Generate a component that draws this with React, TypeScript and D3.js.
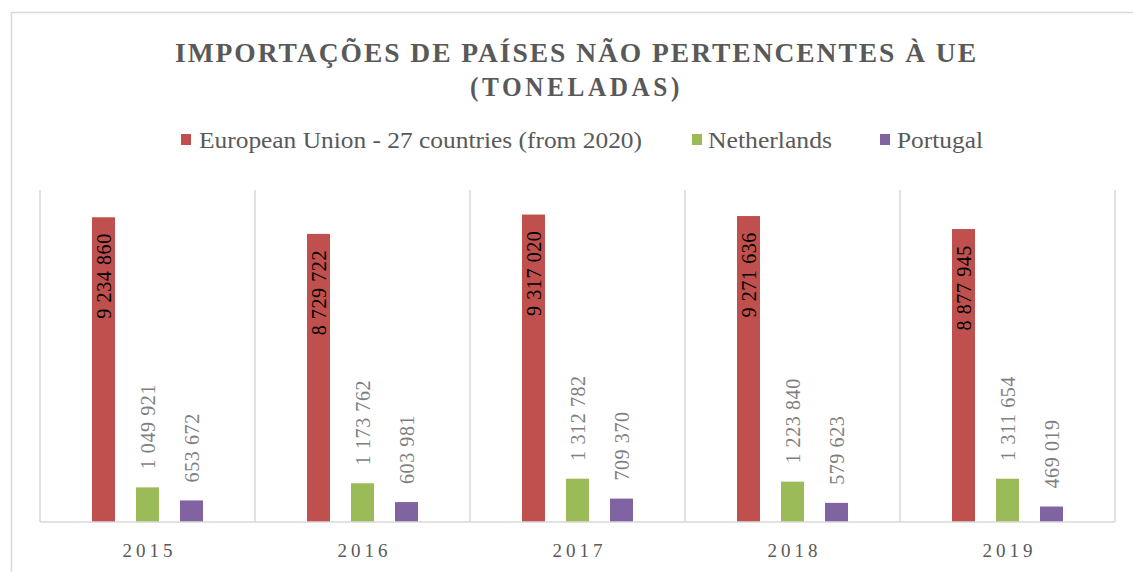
import React from "react";
import * as d3 from "d3";

const years = ["2015", "2016", "2017", "2018", "2019"];
const seriesNames = ["European Union - 27 countries (from 2020)", "Netherlands", "Portugal"];
const seriesColors = ["#c0504d", "#9bbb59", "#8064a2"];
const euValues = [9234860, 8729722, 9317020, 9271636, 8877945];
const nlValues = [1049921, 1173762, 1312782, 1223840, 1311654];
const ptValues = [653672, 603981, 709370, 579623, 469019];
const labelsEU = ["9 234 860", "8 729 722", "9 317 020", "9 271 636", "8 877 945"];
const labelsNL = ["1 049 921", "1 173 762", "1 312 782", "1 223 840", "1 311 654"];
const labelsPT = ["653 672", "603 981", "709 370", "579 623", "469 019"];

const W = 1133, H = 572;
const plot = { left: 40, right: 1115, top: 192, bottom: 522 };
const FONT = "'Liberation Serif', 'DejaVu Serif', serif";
const GRAY = "#595959";

export default function App() {
  const x = d3.scaleBand<string>().domain(years).range([plot.left, plot.right]).padding(0);
  const inner = d3.scalePoint<number>().domain([0, 1, 2]).range([52, 140]);
  const y = d3.scaleLinear().domain([0, 10000000]).range([plot.bottom, plot.top]);
  const series = [euValues, nlValues, ptValues];
  const labels = [labelsEU, labelsNL, labelsPT];
  const bw = 23;

  const legendItems = [
    { x: 181, tx: 199, w: 443 },
    { x: 692, tx: 708, w: 124 },
    { x: 880, tx: 897, w: 86 },
  ];

  return (
    <svg width={W} height={H} style={{ position: "absolute", left: 0, top: 0, background: "#fff" }}>
      <rect x={0} y={0} width={W} height={H} fill="#fff" />
      <path d={`M11.5,${H} V12.5 H${W}`} fill="none" stroke="#d9d9d9" strokeWidth={1.5} />
      <text x={576.5} y={62} textAnchor="middle" fontFamily={FONT} fontWeight="bold" fontSize={28} fill={GRAY}
        letterSpacing={2} textLength={803} lengthAdjust="spacingAndGlyphs">IMPORTAÇÕES DE PAÍSES NÃO PERTENCENTES À UE</text>
      <text x={576.5} y={96} textAnchor="middle" fontFamily={FONT} fontWeight="bold" fontSize={28} fill={GRAY}
        letterSpacing={4} textLength={213} lengthAdjust="spacingAndGlyphs">(TONELADAS)</text>
      {seriesNames.map((n, i) => (
        <g key={n}>
          <rect x={legendItems[i].x} y={134} width={10} height={11} fill={seriesColors[i]} />
          <text x={legendItems[i].tx} y={148} fontFamily={FONT} fontSize={23} fill={GRAY}
            textLength={legendItems[i].w} lengthAdjust="spacingAndGlyphs">{n}</text>
        </g>
      ))}
      {years.map((yr) => (
        <line key={yr} x1={x(yr)! + x.bandwidth()} x2={x(yr)! + x.bandwidth()} y1={190} y2={plot.bottom}
          stroke="#d9d9d9" strokeWidth={1.5} />
      ))}
      <line x1={plot.left} x2={plot.left} y1={190} y2={plot.bottom} stroke="#d9d9d9" strokeWidth={1.5} />
      {series.map((vals, si) =>
        vals.map((v, i) => {
          const bx = x(years[i])! + inner(si)!;
          return (
            <rect key={`${si}-${i}`} x={bx} y={y(v)} width={bw} height={plot.bottom - y(v)} fill={seriesColors[si]} />
          );
        })
      )}
      <line x1={plot.left} x2={plot.right} y1={plot.bottom} y2={plot.bottom} stroke="#d9d9d9" strokeWidth={1.5} />
      {series.map((vals, si) =>
        vals.map((v, i) => {
          const cx = x(years[i])! + inner(si)! + bw / 2;
          const inside = si === 0;
          const ty = inside ? y(v) + 16 : y(v) - 18;
          return (
            <text key={`l${si}-${i}`} transform={`translate(${cx},${ty}) rotate(-90)`}
              textAnchor={inside ? "end" : "start"} dominantBaseline="central"
              fontFamily={FONT} fontSize={20} letterSpacing={0.6} fill={inside ? "#000" : "#7f7f7f"}>
              {labels[si][i]}
            </text>
          );
        })
      )}
      {years.map((yr) => (
        <text key={`a${yr}`} x={x(yr)! + x.bandwidth() / 2 + 2} y={557} textAnchor="middle" fontFamily={FONT}
          fontSize={19} letterSpacing={4} fill={GRAY}>{yr}</text>
      ))}
    </svg>
  );
}
